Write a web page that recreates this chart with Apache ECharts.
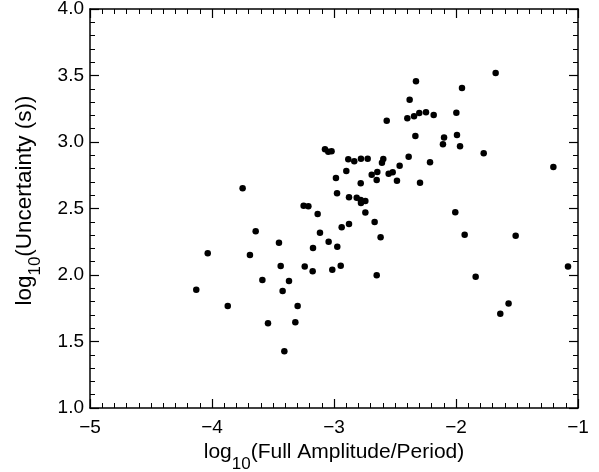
<!DOCTYPE html>
<html><head><meta charset="utf-8">
<script src="https://cdn.jsdelivr.net/npm/echarts/dist/echarts.min.js"></script>
<style>html,body{margin:0;padding:0;background:#fff}#c{width:599px;height:472px}</style>
</head><body><div id="c"></div>
<script>
const xValues = [-3.074,-3.047,-3.020,-2.984,-2.975,-3.749,-3.249,-3.210,-3.134,-3.642,-3.115,-1.675,-2.328,-1.951,-2.380,-2.568,-2.399,-2.344,-2.301,-2.246,-2.183,-1.997,-2.333,-2.098,-1.992,-2.107,-1.967,-1.773,-1.202,-2.388,-2.213,-2.462,-2.295,-2.484,-2.596,-2.607,-2.552,-2.519,-2.691,-2.645,-2.650,-2.883,-2.834,-2.779,-2.724,-2.899,-2.781,-2.877,-2.814,-2.781,-2.743,-2.779,-2.743,-2.667,-2.937,-2.877,-2.618,-2.006,-1.929,-1.511,-4.035,-3.689,-3.451,-3.437,-3.587,-3.369,-3.421,-4.129,-3.871,-3.298,-3.541,-3.317,-3.407,-3.172,-3.044,-2.973,-3.240,-3.175,-3.014,-2.945,-2.650,-1.839,-1.082,-1.569,-1.637];
const yValues = [2.945,2.927,2.930,2.729,2.614,2.652,2.521,2.516,2.459,2.329,2.318,3.519,3.456,3.406,3.318,3.160,3.178,3.193,3.218,3.223,3.203,3.220,3.045,3.033,3.053,2.983,2.968,2.915,2.812,2.890,2.847,2.822,2.694,2.709,2.872,2.844,2.762,2.772,2.754,2.774,2.714,2.870,2.855,2.875,2.875,2.782,2.689,2.584,2.581,2.564,2.556,2.541,2.469,2.398,2.359,2.383,2.283,2.471,2.303,2.296,2.163,2.150,2.243,2.068,1.962,1.955,1.880,1.890,1.767,1.767,1.637,1.644,1.426,2.203,2.250,2.213,2.063,2.028,2.040,2.070,1.998,1.987,2.063,1.785,1.709];
const xRange = [-5, -1];
const yRange = [1.0, 4.0];
const xTitle = ['log', '10', '(Full Amplitude/Period)'];
const yTitle = ['log', '10', '(Uncertainty (s))'];

const FONT = '"Liberation Sans", Arial, Helvetica, sans-serif';
const points = xValues.map((x, i) => [x, yValues[i]]);
const minus = v => (v < 0 ? '\u2212' + Math.abs(v) : String(v));
const makeRich = mainSize => ({
  a: { fontFamily: FONT, fontSize: mainSize, color: '#000', lineHeight: 24, verticalAlign: 'top' },
  b: { fontFamily: FONT, fontSize: 17, color: '#000', lineHeight: 44, verticalAlign: 'middle' }
});
const titleText = t => '{a|' + t[0] + '}{b|' + t[1] + '}{a|' + t[2] + '}';

const tickCommon = {
  axisLine: { show: true, onZero: false, lineStyle: { color: '#000', width: 1.5 } },
  axisTick: { show: true, inside: true, length: 9, lineStyle: { color: '#000', width: 1.2 } },
  splitLine: { show: false }
};
const minorX = { show: true, splitNumber: 10, length: 5, lineStyle: { color: '#000', width: 1 } };
const minorY = { show: true, splitNumber: 5, length: 5, lineStyle: { color: '#000', width: 1 } };

const chart = echarts.init(document.getElementById('c'), null, { renderer: 'canvas' });
chart.setOption({
  backgroundColor: '#fff',
  animation: false,
  grid: { left: 90, right: 21, top: 9, bottom: 64, containLabel: false, outerBoundsMode: 'none' },
  xAxis: [
    Object.assign({
      type: 'value', min: xRange[0], max: xRange[1], interval: 1, position: 'bottom',
      name: titleText(xTitle), nameLocation: 'middle', nameGap: 34,
      nameTextStyle: { rich: makeRich(21) },
      minorTick: minorX,
      axisLabel: { show: true, margin: 10, fontFamily: FONT, fontSize: 19, color: '#000', formatter: minus }
    }, tickCommon),
    Object.assign({
      type: 'value', min: xRange[0], max: xRange[1], interval: 1, position: 'top',
      minorTick: minorX, axisLabel: { show: false }
    }, tickCommon)
  ],
  yAxis: [
    Object.assign({
      type: 'value', min: yRange[0], max: yRange[1], interval: 0.5, position: 'left',
      name: titleText(yTitle), nameLocation: 'middle', nameGap: 33, nameRotate: 90,
      nameTextStyle: { rich: makeRich(22.5), padding: [0, 0, 0, 16] },
      minorTick: minorY,
      axisLabel: { show: true, margin: 6, fontFamily: FONT, fontSize: 19, color: '#000', formatter: v => v.toFixed(1) }
    }, tickCommon),
    Object.assign({
      type: 'value', min: yRange[0], max: yRange[1], interval: 0.5, position: 'right',
      minorTick: minorY, axisLabel: { show: false }
    }, tickCommon)
  ],
  series: [{
    type: 'scatter', xAxisIndex: 0, yAxisIndex: 0, data: points,
    symbol: 'circle', symbolSize: 6.5, itemStyle: { color: '#000', opacity: 1 }
  }]
});
</script>
</body></html>
